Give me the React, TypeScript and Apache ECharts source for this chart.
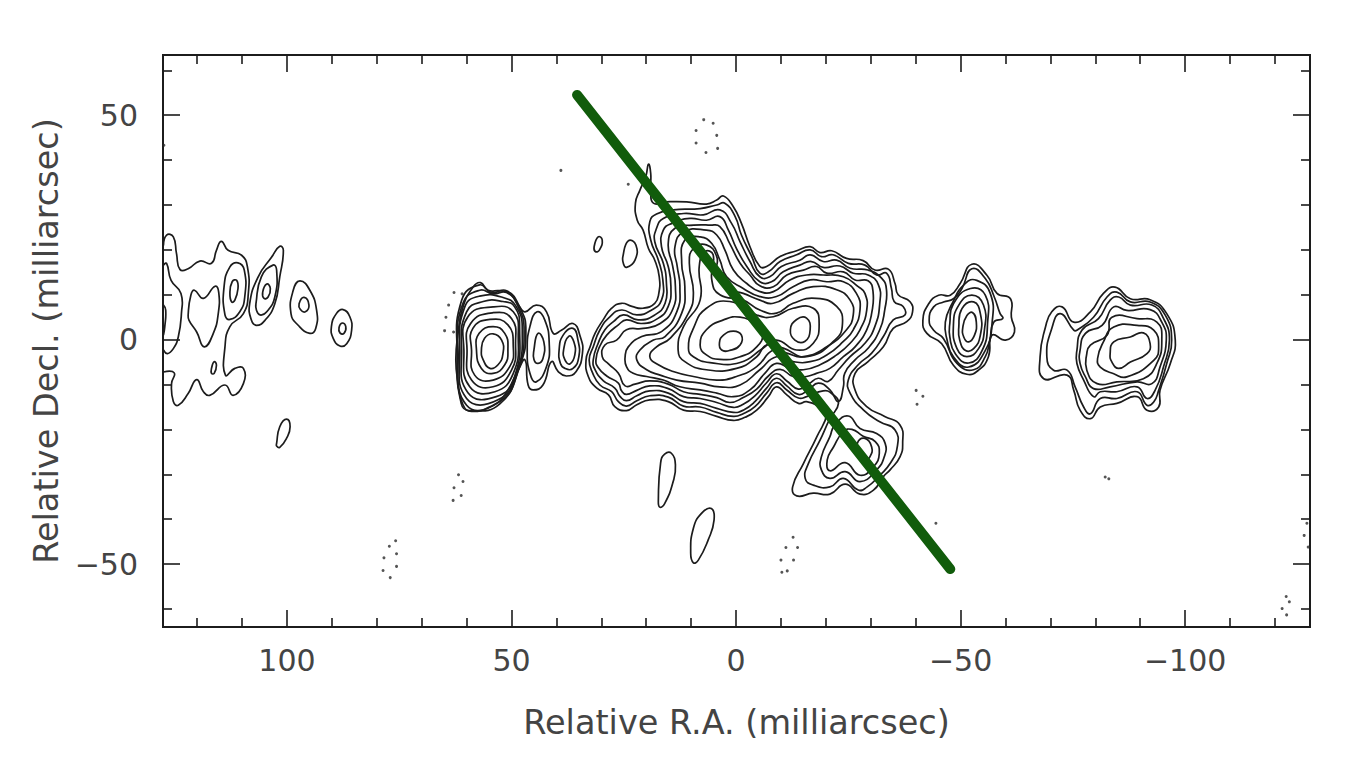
import React, { useEffect, useRef } from "react";
import * as echarts from "echarts";

type P = number[][];

const xMajor = [100, 50, 0, -50, -100];
const xMinor = [120, 110, 90, 80, 70, 60, 40, 30, 20, 10, -10, -20, -30, -40, -60, -70, -80, -90, -110, -120];
const yMajor = [50, 0, -50];
const yMinor = [60, 40, 30, 20, 10, -10, -20, -30, -40, -60];

const m1: P = [[33.4,-4.5],[32.5,-1.6],[31.4,1.4],[29.6,4.4],[27.7,7],[25.5,8.1],[23.2,7.4],[20.7,7],[18.1,8.1],[17.2,10.3],[17.1,14],[18.1,17.7],[19.5,20.3],[20.7,24.4],[22,26.6],[22.4,30.4],[21.4,33.3],[20.1,36.3],[19.5,39.1],[19,37],[19,33.3],[18.4,30.4],[15.5,30.7],[11,30.7],[6.6,30.2],[4.3,31.1],[2.8,32],[0.6,29.6],[-1.2,25.9],[-3.1,20.7],[-5.3,16.3],[-6.8,16.3],[-9.8,18.5],[-13.5,19.8],[-16.5,20.7],[-18.7,19.4],[-21.3,19.8],[-24.6,18.1],[-28.3,17.6],[-30.9,15.5],[-33.9,15.7],[-35.4,12.5],[-36.1,10],[-38.7,8.5],[-39.3,6.2],[-38,4],[-35,2.5],[-32.8,-1.6],[-29.4,-4.9],[-26.5,-7.5],[-26.5,-11.2],[-29.1,-14.9],[-33.1,-17.1],[-36.5,-19],[-37.1,-23.1],[-36.5,-26.1],[-34.3,-29],[-32.8,-30.5],[-30.6,-33.5],[-27.6,-34.4],[-24.3,-32.2],[-20.9,-34.4],[-17.2,-34.2],[-13.5,-34.8],[-12.6,-32.8],[-15,-27.6],[-18,-21.6],[-20.2,-16.4],[-18.7,-15],[-15.7,-13.8],[-13.9,-14.2],[-11.3,-12.3],[-9,-10.5],[-7.2,-12.7],[-4.6,-15.7],[-2,-17.3],[0.6,-18],[4.3,-17.1],[8,-16],[11.7,-15.7],[15.1,-13.8],[19.2,-13.4],[22.1,-14.5],[24.4,-15.8],[27,-14.9],[28.4,-12.3],[31,-10.8],[32.9,-8.2]];
const m2: P = [[32.7,-4.5],[31.8,-1.6],[30.3,2.2],[28.1,5.1],[25.5,6.6],[22.1,5.5],[18.8,6.6],[16.6,8.8],[16.3,13.3],[17.3,17.7],[19,22.2],[19.2,26.3],[17.7,28],[14,28.9],[8,29.2],[4.3,30],[2.5,30.4],[0.2,27.4],[-1.2,23.3],[-3.5,18.5],[-5.3,14.8],[-7.2,15.1],[-9.8,17.4],[-13.5,18.9],[-16.5,20],[-19,18.5],[-21.6,18.9],[-25,17],[-28.7,16.6],[-31.3,14.4],[-33.5,14.8],[-34.6,11.4],[-35.2,8.5],[-37.2,7.4],[-37.6,5.5],[-35,4.4],[-32.8,0.7],[-30.2,-3],[-27.2,-5.6],[-25,-9],[-25.4,-11.9],[-28.4,-15.7],[-32,-18.3],[-35.4,-20.1],[-35.9,-23.9],[-34.3,-27.6],[-32,-30.2],[-29.2,-32.8],[-27.2,-33.5],[-23.9,-30.9],[-20.9,-32.8],[-17.2,-32.4],[-15.4,-30.9],[-16.1,-27.6],[-18.7,-22.4],[-20.9,-17.6],[-22.8,-14.2],[-21.3,-12],[-19.4,-11.4],[-15.7,-12.7],[-13.9,-13],[-11.3,-11.2],[-9,-9.6],[-6.8,-11.9],[-4.2,-14.9],[-1.6,-16.5],[0.6,-17.1],[4.3,-16.2],[8,-15],[11.7,-14.8],[15.1,-12.8],[19.2,-12.5],[22.1,-13.6],[24.4,-14.8],[26.2,-13.8],[27.7,-11.6],[30.3,-10.1],[31.9,-7.5]];
const m3: P = [[31.8,-4.5],[30.7,-0.8],[29.2,2.2],[27.3,4],[25.1,5.5],[21.8,4.4],[18.1,5.5],[15.8,8.1],[15.5,12.5],[16.2,17],[18.1,21.8],[17.7,24.8],[16.2,27],[11.7,28.1],[7.3,27.8],[3.6,28.9],[1,25.9],[-0.9,21.8],[-3.1,17.4],[-5.3,14],[-7.5,14],[-10.1,16.3],[-14.2,17.7],[-16.5,18.9],[-19.4,17.4],[-22.4,17.7],[-25.4,15.9],[-29.4,15.5],[-32.4,13.7],[-33.5,11.1],[-33.1,6.6],[-32,2.2],[-29.4,-1.9],[-26.5,-4.5],[-24.2,-7.5],[-23.9,-10.5],[-22.8,-13.8],[-20.9,-11.2],[-18.3,-9.7],[-16.1,-11.2],[-13.9,-12.2],[-11.3,-10.3],[-9,-8.6],[-6.8,-10.8],[-4.2,-13.8],[-1.6,-15.7],[0.6,-16.2],[4.3,-15.3],[8,-14.2],[11.7,-13.8],[15.1,-11.9],[19.2,-11.4],[22.1,-12.5],[24.4,-13.6],[25.8,-12.7],[27,-10.8],[29.6,-9.1],[31.4,-6.7]];
const m4: P = [[31.2,-4.5],[30.4,-1.6],[28.8,1],[26.2,3.3],[24.4,4.4],[21,3.6],[17.3,4.8],[15.1,7.4],[14.5,11.8],[15.1,16.3],[16.6,20.7],[16.2,24.4],[14.3,25.9],[10.3,27],[6.6,26.6],[3.6,27.4],[1.7,24.4],[-0.1,20.3],[-2.4,16.3],[-5.3,12.9],[-7.9,12.9],[-10.5,15.1],[-14.2,16.6],[-16.8,17.4],[-19.4,16.1],[-23.1,16.4],[-26.1,14.8],[-29.4,14.4],[-31.7,12.2],[-32,8.1],[-30.9,2.9],[-28.7,-0.8],[-25.4,-3.8],[-22.8,-6.7],[-20.5,-9.3],[-18.3,-8.6],[-16.1,-9.9],[-13.9,-11],[-11.3,-9.2],[-9,-7.6],[-6.8,-9.6],[-4.2,-12.5],[-1.6,-14.4],[0.6,-15.1],[4.3,-14],[8,-13.1],[11.7,-12.7],[15.1,-10.9],[19.2,-10.3],[22.1,-11.3],[24.4,-12.2],[25.5,-11.4],[26.2,-9.7],[28.8,-8.1],[30.7,-6.2]];
const m5: P = [[29.8,-3.8],[29.2,-1.2],[26.6,-0.1],[24.4,2.2],[20.7,2.5],[16.9,3.6],[14,7],[13.5,11.8],[14.1,16.3],[15.1,21.4],[13.6,24.8],[9.5,25.5],[5.8,25.5],[3.6,25.2],[1.4,21.4],[-0.9,17],[-3.1,14.4],[-5.3,12],[-8.3,11.8],[-11.3,14.4],[-15,15.5],[-17.9,16.3],[-20.2,14.8],[-23.9,15.1],[-26.5,13.3],[-29.4,13.1],[-30.5,10.7],[-30.2,5.9],[-29.1,2.2],[-26.5,-1.6],[-23.9,-3.8],[-20.9,-6.4],[-17.9,-7.5],[-15.7,-8.2],[-12.7,-8.2],[-9.8,-6.6],[-7.2,-8.1],[-4.6,-11],[-1.6,-12.9],[1.4,-14],[4.3,-12.9],[8,-12.2],[11.7,-11.6],[15.1,-9.9],[19.2,-9.2],[22.5,-9.9],[24.7,-10.3],[26.2,-7.5],[28.4,-5.4]];
const m6: P = [[24.7,-3.8],[24,-1.6],[21,0.7],[16.6,1.8],[13.2,6.2],[12.5,11.8],[13.1,16.3],[13.6,20.7],[11.7,24],[6.6,24.4],[4.3,23.3],[2.5,20],[0.6,15.5],[-2.4,12.5],[-5.3,10.7],[-8.3,10.7],[-12,13.3],[-15.7,14.4],[-19.4,14.4],[-23.9,14],[-27.2,11.8],[-28.7,10.3],[-29.1,6.6],[-27.6,2.2],[-25.4,-0.8],[-22.4,-3.4],[-18.7,-5.6],[-15,-6.7],[-12,-6.4],[-9,-5.3],[-6.4,-7.5],[-3.1,-11.2],[0.6,-12.7],[4.3,-11.9],[8,-11.2],[12.5,-10.5],[16.2,-9],[19.9,-8.2],[22.9,-7.5],[24.4,-6]];
const m7: P = [[22.1,-4.5],[21.4,-2.3],[18.4,-0.1],[15.8,0.7],[12.1,5.9],[11.4,11.8],[12.1,17],[11.4,22.2],[8,22.9],[5.4,21.4],[3.6,17.7],[2.1,14],[-1.6,11.4],[-5.3,9.6],[-9,9.6],[-12.7,11.8],[-16.5,13.3],[-20.2,12.9],[-23.9,12.9],[-26.8,10.3],[-27.6,6.6],[-26.1,2.2],[-23.9,-0.4],[-20.2,-3.4],[-16.5,-4.9],[-12.7,-4.9],[-9,-3.8],[-5.3,-6.7],[-0.9,-10.1],[3.6,-10.5],[8,-9.7],[13.2,-9],[16.9,-7.9],[19.9,-6.7]];
const m8: P = [[19.2,-3.8],[17.7,-1.6],[14.7,0.3],[10.6,5.9],[9.5,10.3],[10.4,17],[9.5,20.3],[6.6,21.1],[4.3,18.5],[4.3,14.8],[2.1,11.4],[-1.6,10.3],[-5.3,8.8],[-8.3,8.1],[-12.7,10.3],[-17.2,11.8],[-22.4,11.1],[-25.4,8.8],[-26.1,5.5],[-24.6,2.2],[-20.2,-1.6],[-15,-3.8],[-11.3,-3],[-8.3,-2.3],[-4.6,-6],[-0.1,-8.2],[4.3,-9],[9.5,-8.2],[14,-7.1],[17.3,-5.6]];
const m9: P = [[12.9,-2.3],[11.7,2.9],[8,8.8],[8.2,16.3],[6.9,19.6],[5.1,18.9],[5.4,13.3],[3.6,10],[-1.6,8.8],[-5.3,6.6],[-9,5.9],[-12.7,8.1],[-17.9,9.2],[-22.4,7.4],[-23.7,3.6],[-22,-0.1],[-15.7,-3.8],[-10.5,-1.9],[-6.8,-1.2],[-4.6,-3.8],[-0.1,-6.4],[6.6,-6.7],[11.4,-4.9]];
const r2: P = [[10.6,-1.9],[9.5,2.5],[6.6,7],[1.4,8.5],[-4.6,5.5],[-8.3,5.1],[-12.7,7],[-17.2,7],[-18.5,3.6],[-17.2,-0.8],[-13.5,-2.3],[-9,-0.1],[-6,-1.9],[-0.9,-5.1],[5.8,-5.1],[9.5,-3.8]];
const r3: P = [[8,-1.2],[6.6,2.2],[2.8,4.4],[-0.9,5],[-4.6,3.3],[-6,1.4],[-4.6,-1.6],[-0.9,-3.8],[3.6,-4.4],[6.6,-3.4]];
const r4: P = [[3.7,-0.7],[2.8,1],[0.6,1.9],[-1.2,1],[-0.9,-1.2],[1.4,-2.4],[3.2,-2.3]];
const r5: P = [[-12.1,2.2],[-13.5,4.5],[-15.7,4.8],[-16.5,2.2],[-15.3,-0.4],[-13.1,-0.1]];
const islandA: P = [[31.6,20.7],[30.7,22.9],[29.8,22.2],[30.4,20],[31.3,19.6]];
const islandB: P = [[25.2,18.5],[24,22],[22.3,21.1],[22.5,17.7],[24.4,16.1],[25.1,17]];

const lobe3: P = [[-22,-19],[-25,-17],[-27.6,-19.8],[-31.3,-20.9],[-33.2,-23.1],[-33,-26.1],[-31.3,-29],[-27.6,-31.6],[-24.3,-29.4],[-20.9,-30.9],[-19,-29],[-19,-26.1],[-20.9,-21.6]];
const lobe4: P = [[-23.9,-20.5],[-21.7,-23.9],[-20.3,-26.8],[-20.9,-29.2],[-24.3,-27.4],[-27.6,-30.2],[-30.6,-28.3],[-31.9,-25.3],[-31,-22.7],[-28.3,-21.5],[-25.8,-20]];
const lobe5: P = [[-27,-23.1],[-28.7,-22],[-30.2,-23.9],[-29.8,-26.1],[-28.4,-27.2],[-27.2,-26.1]];

const edgeA: P = [[127.5,21],[126.8,23.3],[125.3,22.9],[124.6,19.2],[123.8,15.6],[122,15.8],[119.4,17.5],[116.8,17],[115.7,19.9],[114.6,21.9],[113.1,19.9],[110.1,18.8],[108.8,16.2],[108.6,10.3],[109.7,5.8],[112.7,2.9],[113.8,-1.6],[113.7,-7.9],[111.6,-6.4],[109.7,-6.4],[109.7,-9.8],[112,-12.4],[113.8,-10.1],[117.2,-12.4],[118.6,-11.6],[120.1,-8.9],[122,-12],[124.2,-14.6],[125.3,-13.8],[125.7,-9.8],[125.1,-7.4],[127.5,-7.2]];
const edgeB: P = [[127.5,16.6],[126.8,17],[125.8,13.2],[123.6,10.3],[123.5,5.8],[124.2,0.6],[125.3,-2],[126.6,-3.1],[127.5,-2.3]];
const edgeC: P = [[127.5,7.7],[127,6.6],[127.2,2.9],[127.5,1]];

const westD: P = [[122,5.5],[121.4,9.9],[120.6,11],[118.6,9.2],[116,11.9],[115.2,10.6],[115.3,5.8],[116.4,1.4],[118.4,-1.6],[120.1,1.7],[121.8,4.3]];
const westE: P = [[114,11.8],[112.7,16.2],[110.9,17.1],[109.5,15.5],[109.4,9.5],[110.5,6.2],[112.7,4.5],[113.8,5.5]];
const westF: P = [[112.7,10.3],[112.2,12.9],[111.2,13.2],[110.9,11.4],[111.6,8.8],[112.3,8.4]];
const westG: P = [[108.3,8],[106.4,14],[103.4,18.4],[101.6,20.8],[100.8,19.9],[101.6,14],[102.7,8],[104.9,4.3],[106.8,3.2],[107.9,4.3]];
const westH: P = [[106.9,8],[105.7,14],[103.1,16.6],[102.3,15.5],[102.7,9.5],[104.5,6.2],[106,5.5],[106.8,6.6]];
const westI: P = [[105.4,10.6],[104.5,12.4],[103.7,11.4],[104.2,9.5],[105.1,9.2]];
const westJ: P = [[99.1,5.8],[98.6,11],[97.1,13.1],[94.9,11],[93.4,6.6],[93.6,2.5],[94.9,1.4],[97.5,3.2]];
const westK: P = [[97.3,8],[96.2,9.4],[95.1,7.7],[95.9,6.2],[97,6.7]];
const westL: P = [[90.1,2.9],[89,5.8],[87.5,6.7],[86,5.1],[85.6,2.1],[86.7,-0.9],[88.2,-1.4],[89.7,0.3]];
const westM: P = [[88.4,2.7],[87.7,3.7],[86.9,2.9],[87.3,1.4],[88.2,1.5]];
const westN: P = [[116.8,-6.4],[116.2,-4.9],[115.7,-5.7],[116.2,-7.5],[116.8,-7.5]];
const westO: P = [[102.3,-23.1],[101.6,-19.4],[100.1,-17.7],[99.3,-19.4],[100.1,-22],[101.6,-24],[102.3,-23.7]];

const p1: P = [[56.7,-2.3],[56,0.3],[54.1,1.3],[52.2,-0.1],[51.9,-3.1],[53,-5.6],[54.8,-6.4],[56.3,-4.5]];
const p2: P = [[57.8,-2.3],[57.2,1.4],[54.1,2.9],[51.5,1.4],[50.8,-2.3],[51.5,-5.6],[54.1,-7.5],[56.7,-6.4]];
const p3: P = [[58.9,-2.3],[58.6,2.5],[54.8,4.5],[50.8,3.3],[49.6,-1.6],[50.4,-6],[54.1,-9],[58.2,-7.9]];
const p4: P = [[59.9,-2.3],[59.1,3.6],[54.1,6],[50,4.7],[49.1,-0.8],[50,-6.8],[54.1,-10.5],[58.9,-9]];
const p5: P = [[60.6,-2.3],[59.7,5.1],[54.1,7.3],[49.6,6.2],[48.5,0.7],[49.6,-7.5],[53.7,-11.6],[59.3,-10.5]];
const p6: P = [[61.1,-2.3],[60,6.2],[56.3,8.5],[51.9,8.5],[49.3,7.3],[48.2,2.9],[49.3,-8.2],[53.4,-12.7],[59.7,-11.8]];
const p7: P = [[61.5,-2.3],[60.4,7.3],[57.1,9.7],[51.9,9.4],[48.9,7.3],[47.6,2.1],[48.9,-7.5],[53,-13.4],[60,-13.1]];
const p8: P = [[61.9,-2.3],[60.8,8.1],[57.1,11],[54.1,10.2],[51.1,10.5],[48.5,7.3],[47.2,2.1],[48.5,-6.8],[52.6,-13.8],[60,-14.6]];
const p9: P = [[62.1,-3.8],[61.1,8.8],[57.1,12.2],[54.5,10.5],[51.1,10.9],[48.2,7.3],[46.8,2.1],[48.2,-6],[52.6,-14.3],[59.4,-15.8],[61.2,-14.2]];
const p10: P = [[62.4,-4.5],[61.9,1.4],[60.8,7.3],[58.5,11.8],[56.9,12.7],[55.2,11],[52.6,10.9],[50.4,10.3],[48.2,7.3],[47,6.2],[44.5,7.7],[42.2,6.2],[40.7,1.4],[38.9,2.1],[36.3,3.6],[34.7,0.7],[34.2,-3],[35.6,-7.1],[37.8,-8.1],[39.6,-7.1],[41.1,-4.9],[43,-10.1],[45.2,-11.2],[46.3,-10.1],[47,-4.5],[48.5,-6.8],[51.5,-12.3],[54.1,-14.6],[58.9,-16],[60.8,-14.5],[61.9,-9.7]];
const p11: P = [[46.5,-2.3],[45.9,2.9],[44.3,6.2],[42.6,4.4],[41.6,-0.8],[42.2,-6],[44.5,-9.4],[45.9,-7.5]];
const p12: P = [[45,-2.3],[44.1,1.4],[42.8,-0.5],[43,-4.2],[44.1,-5.3],[45,-4.4]];
const q1: P = [[39.4,-2.3],[38.5,1],[36.3,2.5],[35.2,-0.1],[35,-3.8],[36.3,-6.4],[38.1,-6.4],[39.1,-5.3]];
const q2: P = [[38.4,-2.3],[37.2,0.8],[36.1,-0.5],[35.9,-3.4],[37,-5.4],[38.1,-4.5]];

const k1: P = [[-41.6,4.3],[-42.9,8],[-45.1,9.9],[-47.7,9.9],[-49.9,12.5],[-52.5,16.8],[-55.9,14.3],[-58.1,10.3],[-61.1,9.1],[-61.3,5],[-62,1.7],[-60,-0.1],[-57,1],[-56.2,-3.8],[-54,-6.8],[-51.4,-7.7],[-48.4,-5.7],[-45.8,-0.9],[-42.5,1.4]];
const k2: P = [[-43,4.3],[-44,7.3],[-46.2,8.4],[-48.4,9.1],[-50.3,11.4],[-52.5,15.8],[-55.5,13.6],[-57.5,9.5],[-58.8,5.8],[-59.4,4.7],[-57.4,3.9],[-56.5,-0.1],[-55.5,-3.8],[-52.9,-6.7],[-49.2,-5.3],[-46.2,0.2],[-44,2.1]];
const k3: P = [[-46.6,3.9],[-48.1,8],[-51,12.5],[-53.6,13.2],[-56.6,10.3],[-57,3.6],[-55.5,-2.4],[-51.8,-6.1],[-48.4,-3.8],[-47,-0.1]];
const k4: P = [[-47.6,3.6],[-48.4,8],[-52.2,11.4],[-55.5,9.9],[-56,3.6],[-54.8,-2.4],[-51.8,-5.2],[-48.8,-3.1],[-47.6,0.6]];
const k5: P = [[-48.4,3.2],[-49.6,7.7],[-52.5,9.9],[-55.1,7.7],[-55.3,2.1],[-54,-2],[-51.4,-3.8],[-49.2,-2]];
const k6: P = [[-49.6,2.8],[-50.3,6.9],[-52.9,8.4],[-54.4,5.8],[-54.4,1],[-52.9,-2],[-51.1,-2.4],[-49.8,-0.1]];
const k7: P = [[-50.5,2.8],[-51.4,5.4],[-52.7,6],[-53.5,3.9],[-53.1,1],[-51.8,-0.5],[-50.7,0.6]];

const w1: P = [[-67.7,-3.8],[-68.9,2.8],[-70.3,6.2],[-72.6,7.3],[-75.2,3.9],[-78.9,6.2],[-81.8,10.3],[-84.4,11.7],[-87.8,9.1],[-92.2,8.9],[-95.9,5.8],[-97.8,-0.1],[-96.7,-5.3],[-94.4,-11.3],[-94.1,-15],[-91.5,-15.7],[-89.3,-12.7],[-84.8,-14.2],[-81.1,-15],[-78.9,-17.6],[-76.6,-15.7],[-75.2,-11.3],[-73.7,-7.9],[-68.5,-8.7]];
const w2: P = [[-69.2,-3.8],[-70.3,2.5],[-72.2,5.8],[-75.2,2.1],[-75.9,2.1],[-79.6,5],[-82.6,9.5],[-84.8,10.6],[-87.8,8.4],[-92.2,8.4],[-95.6,5.4],[-97,-0.1],[-95.9,-5.3],[-94.1,-11.3],[-93,-13.9],[-91.5,-14.6],[-89.3,-11.6],[-84.8,-13.1],[-81.1,-13.1],[-78.9,-16.5],[-77.4,-15],[-75.5,-10.5],[-73.7,-6.8],[-70.7,-6.8]];
const w3: P = [[-75.9,-2.4],[-77,2.1],[-80.7,4.7],[-83.3,8.8],[-85.2,9.5],[-87.8,7.7],[-92.6,7.7],[-95.2,4.7],[-96.5,-0.1],[-95.2,-6],[-93.3,-11.3],[-91.5,-13.1],[-89.3,-10.5],[-84.8,-11.6],[-81.1,-11.6],[-79.6,-12.7],[-77.4,-9],[-75.9,-5.3]];
const w4: P = [[-76.6,-2.4],[-77.8,1.4],[-81.5,3.2],[-84.1,7.3],[-87,6.5],[-92.2,6.7],[-94.8,3.9],[-95.8,-0.1],[-94.4,-6.1],[-92.6,-9.8],[-89.3,-9.4],[-83.3,-10.5],[-79.6,-10.9],[-77.8,-8.3],[-76.6,-5.3]];
const w5: P = [[-78.1,-3.1],[-78.9,-1.2],[-82.6,1],[-83.7,5],[-89.3,4.7],[-93.7,3.9],[-94.8,-0.1],[-93.7,-5.3],[-90.7,-8.7],[-84.8,-9.4],[-80.4,-9.8],[-78.1,-6.8]];
const w6: P = [[-80.5,-4.2],[-81.8,-0.5],[-84.1,2.8],[-89.3,3.2],[-93,2.1],[-94.1,-1.6],[-93,-4.6],[-87,-8.3],[-84.1,-7.6],[-81.1,-6.1]];
const w7: P = [[-83.3,-3.1],[-84.1,-0.5],[-87.8,0.6],[-90.7,1.5],[-92.2,-0.9],[-91.5,-3.1],[-87.8,-5],[-85.2,-6.4],[-83.7,-5]];

const southS1: P = [[17.3,-35.7],[16.8,-27.5],[15.9,-25.5],[14.4,-25.3],[13.5,-27.9],[14,-31.6],[15.9,-36.5],[17,-37.3]];
const southS2: P = [[10.1,-47.6],[9.5,-42],[7.7,-38.7],[5.5,-37.6],[4.9,-40.2],[6.2,-44.6],[8.4,-49.1],[9.5,-49.7]];

const closedContours: P[] = [m1, m2, m3, m4, m5, m6, m7, m8, m9, r2, r3, r4, r5, islandA, islandB, lobe3, lobe4, lobe5, westD, westE, westF, westG, westH, westI, westJ, westK, westL, westM, westN, westO, p1, p2, p3, p4, p5, p6, p7, p8, p9, p10, p11, p12, q1, q2, k1, k2, k3, k4, k5, k6, k7, w1, w2, w3, w4, w5, w6, w7, southS1, southS2];
const openContours: P[] = [edgeA, edgeB, edgeC];

const negativeDots: P = [
  [7.2,49],[5.1,48.2],[8.9,46.6],[4.3,45.5],[8.9,43.8],[4.1,42.6],[6.7,41.7],
  [62.8,10.5],[61,10.2],[64,7.7],[61.2,7.2],[64.6,5],[61.8,4.5],[64.9,2],[62.9,1.7],
  [-40.1,-11.3],[-41.6,-12.6],[-40.3,-14.4],
  [-12.7,-44],[-11.1,-46.3],[-13.7,-46.3],[-10,-49.1],[-12.8,-49.1],[-11.4,-51.5],[-10.2,-51.8],
  [-122.5,-57.2],[-123.2,-58.4],[-121.6,-59.9],[-122.6,-61.3],[-127.1,-40.9],[-126.5,-43.6],[-127.4,-46.2],
  [61.8,-30.1],[60.8,-31.6],[62.8,-33],[61.2,-34.7],[63,-35.8],
  [75.8,-44.8],[77.2,-46],[75.6,-47.7],[78.4,-48.6],[75.6,-50.5],[78.6,-51.4],[77,-53],
  [-82.2,-30.6],[-83,-31],[24,34.6],[39,37.7],[127.4,43.3],[-44.5,-40.9],
];

const ridgeLine: P = [[35.4,54.5],[-47.7,-51.1]];

const xName = "Relative R.A. (milliarcsec)";
const yName = "Relative Decl. (milliarcsec)";

const INK = "#1c1c1c";
const FONT = "'DejaVu Sans', sans-serif";
const TEXT = "#444444";
const X_RANGE = { min: -127.8, max: 127.6 };
const Y_RANGE = { min: -64, max: 63.4 };
const label = (v: number) => (v < 0 ? "\u2212" + Math.abs(v) : String(v));

function axis(
  range: { min: number; max: number },
  position: string,
  ticks: number[],
  length: number,
  extra: Record<string, unknown> = {}
) {
  return {
    type: "value",
    ...range,
    position,
    splitLine: { show: false },
    axisLine: { show: true, onZero: false, lineStyle: { color: INK, width: 2 } },
    axisTick: { show: true, inside: true, length, customValues: ticks, lineStyle: { color: INK, width: 1.6 } },
    axisLabel: { show: false },
    ...extra,
  };
}

export default function App() {
  const ref = useRef<HTMLDivElement>(null);
  useEffect(() => {
    const chart = echarts.init(ref.current!, null, { renderer: "svg" });
    const labelled = (ticks: number[], margin: number) => ({
      show: true,
      customValues: ticks,
      margin,
      color: TEXT,
      fontFamily: FONT,
      fontSize: 30,
      formatter: label,
    });
    const nameStyle = { color: TEXT, fontFamily: FONT, fontSize: 33.5 };
    const contourSeries = (path: P, closed: boolean) => ({
      type: "custom",
      coordinateSystem: "cartesian2d",
      data: path,
      encode: { x: 0, y: 1 },
      silent: true,
      clip: true,
      z: 2,
      renderItem: (params: any, api: any) => {
        if (params.dataIndex !== 0) return null;
        const points = path.map((p) => api.coord(p));
        return {
          type: closed ? "polygon" : "polyline",
          shape: { points, smooth: 0.5 },
          style: { fill: "none", stroke: INK, lineWidth: 1.7 },
        };
      },
    });
    chart.setOption({
      animation: false,
      grid: { left: 163, right: 47, top: 55, bottom: 132, containLabel: false },
      xAxis: [
        axis(X_RANGE, "bottom", xMajor, 17, {
          inverse: true,
          axisLabel: labelled(xMajor, 18),
          name: xName,
          nameLocation: "middle",
          nameGap: 78,
          nameTextStyle: nameStyle,
        }),
        axis(X_RANGE, "bottom", xMinor, 9, { inverse: true }),
        axis(X_RANGE, "top", xMajor, 17, { inverse: true }),
        axis(X_RANGE, "top", xMinor, 9, { inverse: true }),
      ],
      yAxis: [
        axis(Y_RANGE, "left", yMajor, 17, {
          axisLabel: labelled(yMajor, 25),
          name: yName,
          nameLocation: "middle",
          nameGap: 97,
          nameTextStyle: nameStyle,
        }),
        axis(Y_RANGE, "left", yMinor, 9),
        axis(Y_RANGE, "right", yMajor, 17),
        axis(Y_RANGE, "right", yMinor, 9),
      ],
      series: [
        ...closedContours.map((p) => contourSeries(p, true)),
        ...openContours.map((p) => contourSeries(p, false)),
        {
          type: "scatter",
          data: negativeDots,
          symbolSize: 3,
          silent: true,
          itemStyle: { color: "#2a2a2a" },
          z: 2,
        },
        {
          type: "line",
          data: ridgeLine,
          showSymbol: false,
          silent: true,
          lineStyle: { color: "#115c0b", width: 10, cap: "round" },
          z: 5,
        },
      ],
    });
    return () => chart.dispose();
  }, []);
  return <div ref={ref} style={{ position: "fixed", left: 0, top: 0, width: 1357, height: 759, background: "#fff" }} />;
}
